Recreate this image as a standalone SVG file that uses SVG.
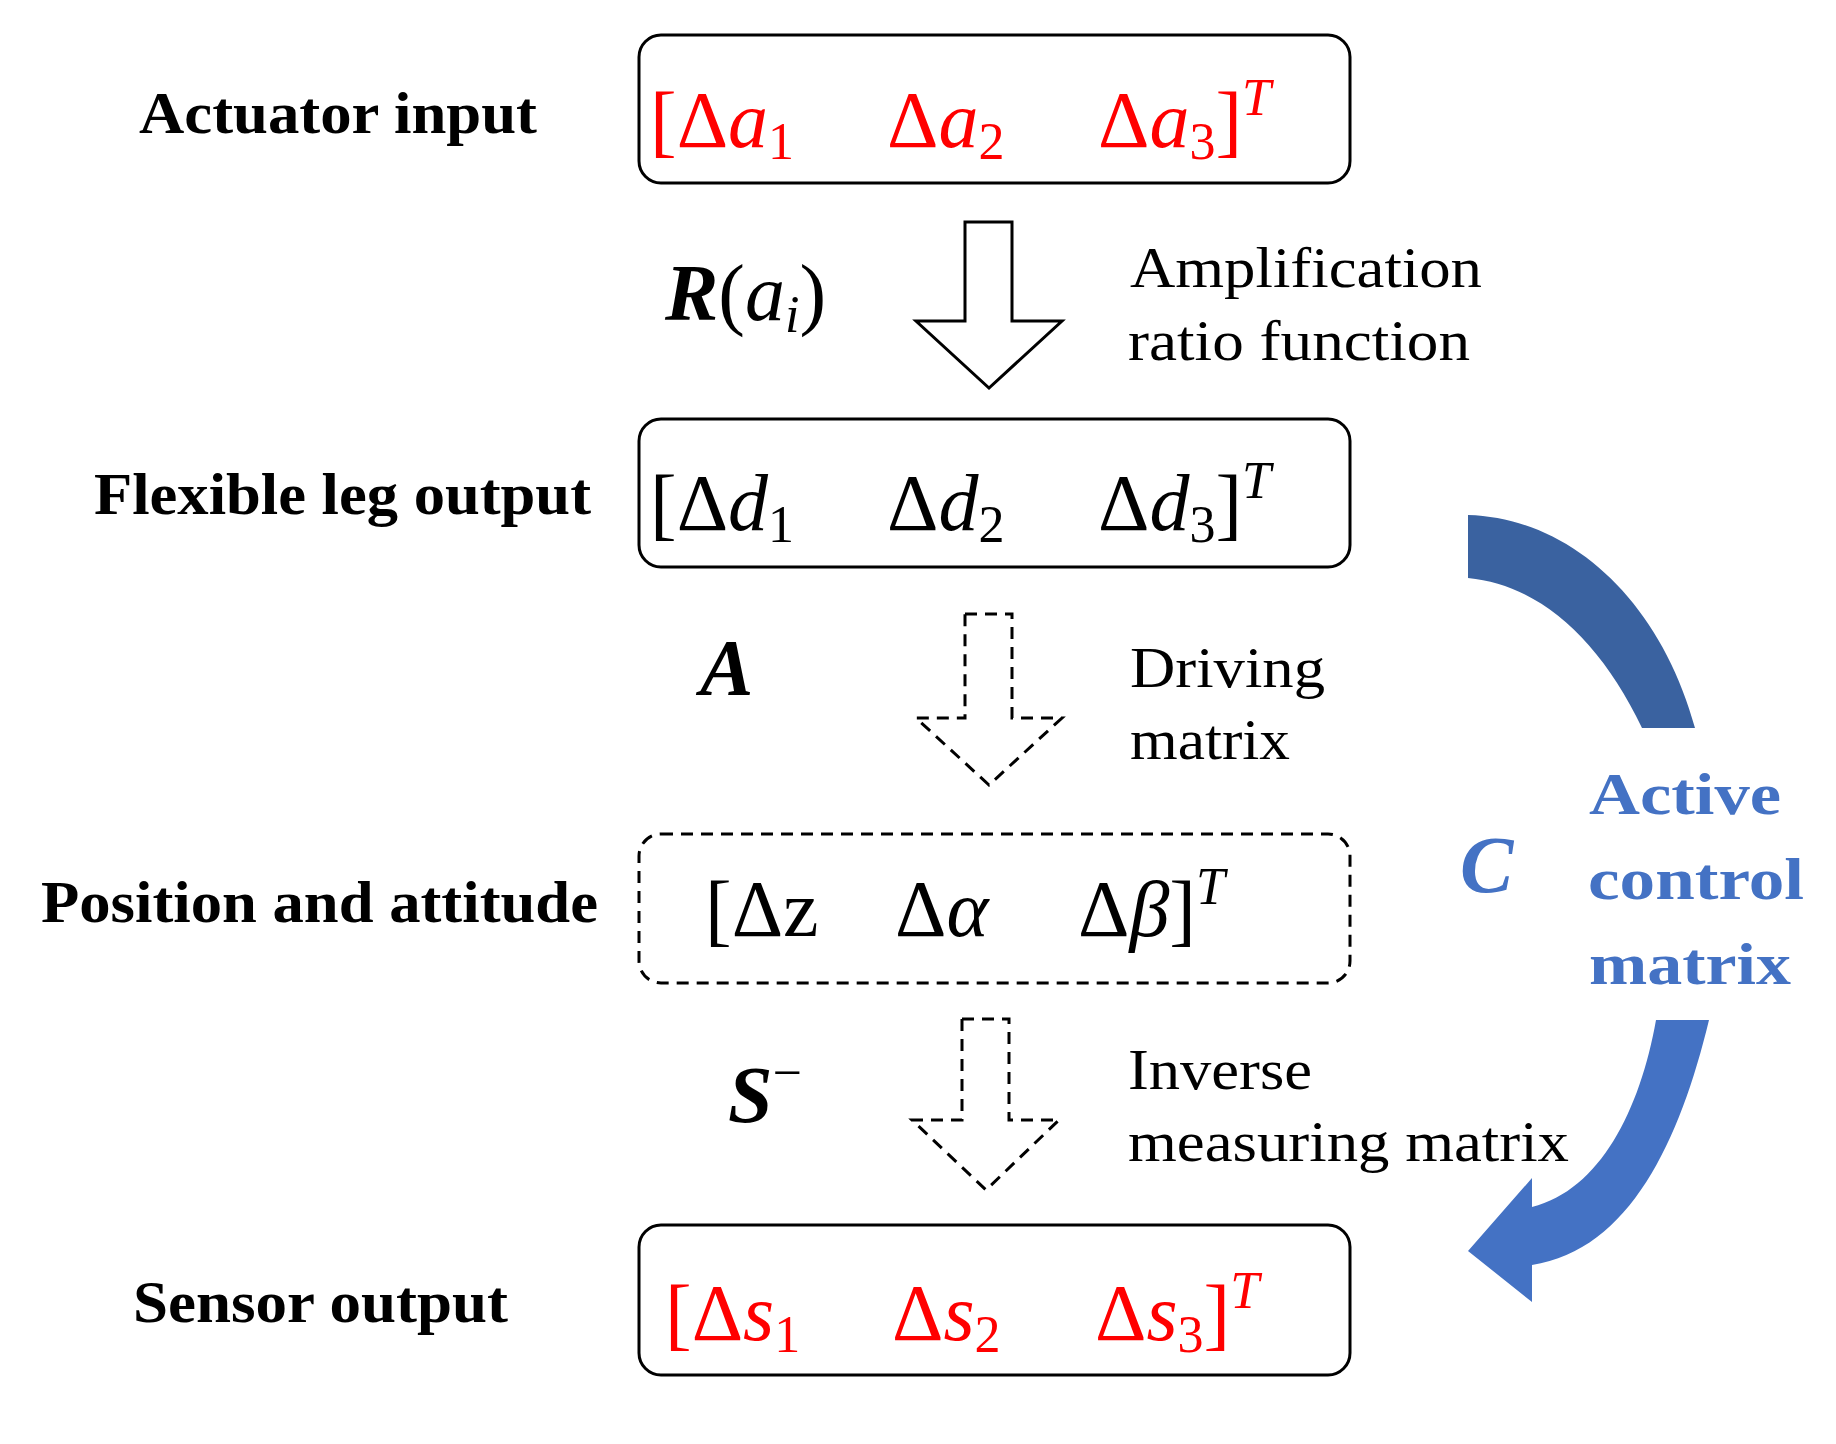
<svg xmlns="http://www.w3.org/2000/svg" width="1836" height="1444" viewBox="0 0 1836 1444">
<style>
.box{fill:none;stroke:#000;stroke-width:3}
.dash{stroke-dasharray:12 8}
.lab{font-family:"Liberation Serif",serif;font-weight:bold;font-size:60px}
.desc{font-family:"Liberation Serif",serif;font-size:58px}
.m{font-family:"Liberation Serif",serif;font-style:italic;font-size:80px}
.red{fill:#f00}
.blue{fill:#4472C4}
</style>
<rect width="1836" height="1444" fill="#fff"/>
<g id="n1"><rect class="box" x="639" y="35" width="711" height="148" rx="22"/>
<text class="m red" y="147"><tspan x="650" font-style="normal">[Δ</tspan><tspan>a</tspan><tspan font-size="52" dy="12" font-style="normal">1</tspan><tspan x="887" dy="-12" font-style="normal">Δ</tspan><tspan>a</tspan><tspan font-size="52" dy="12" font-style="normal">2</tspan><tspan x="1098" dy="-12" font-style="normal">Δ</tspan><tspan>a</tspan><tspan font-size="52" dy="12" font-style="normal">3</tspan><tspan dy="-12" font-style="normal">]</tspan><tspan font-size="52" dy="-32">T</tspan></text>
<text class="lab" x="139" y="133" textLength="398" lengthAdjust="spacingAndGlyphs">Actuator input</text></g>
<g id="n2"><rect class="box" x="639" y="419" width="711" height="148" rx="22"/>
<text class="m" y="530"><tspan x="650" font-style="normal">[Δ</tspan><tspan>d</tspan><tspan font-size="52" dy="12" font-style="normal">1</tspan><tspan x="887" dy="-12" font-style="normal">Δ</tspan><tspan>d</tspan><tspan font-size="52" dy="12" font-style="normal">2</tspan><tspan x="1098" dy="-12" font-style="normal">Δ</tspan><tspan>d</tspan><tspan font-size="52" dy="12" font-style="normal">3</tspan><tspan dy="-12" font-style="normal">]</tspan><tspan font-size="52" dy="-32">T</tspan></text>
<text class="lab" x="94" y="514" textLength="497" lengthAdjust="spacingAndGlyphs">Flexible leg output</text></g>
<g id="n3"><rect class="box dash" x="639" y="834" width="711" height="149" rx="22"/>
<text class="m" y="936"><tspan x="705" font-style="normal">[Δz</tspan><tspan x="895" font-style="normal">Δ</tspan><tspan>α</tspan><tspan x="1078" font-style="normal">Δ</tspan><tspan>β</tspan><tspan font-style="normal">]</tspan><tspan font-size="52" dy="-32">T</tspan></text>
<text class="lab" x="41" y="922" textLength="557" lengthAdjust="spacingAndGlyphs">Position and attitude</text></g>
<g id="n4"><rect class="box" x="639" y="1225" width="711" height="150" rx="22"/>
<text class="m red" y="1340"><tspan x="665" font-style="normal">[Δ</tspan><tspan>s</tspan><tspan font-size="52" dy="12" font-style="normal">1</tspan><tspan x="892" dy="-12" font-style="normal">Δ</tspan><tspan>s</tspan><tspan font-size="52" dy="12" font-style="normal">2</tspan><tspan x="1095" dy="-12" font-style="normal">Δ</tspan><tspan>s</tspan><tspan font-size="52" dy="12" font-style="normal">3</tspan><tspan dy="-12" font-style="normal">]</tspan><tspan font-size="52" dy="-32">T</tspan></text>
<text class="lab" x="133" y="1322" textLength="375" lengthAdjust="spacingAndGlyphs">Sensor output</text></g>
<g id="connectors">
<path class="box" d="M965 222H1012V321H1062L989 388L916 321H965Z"/>
<path class="box dash" d="M965 614H1012V718H1062L989 785L916 718H965Z"/>
<path class="box dash" d="M962 1019H1009V1120H1059L986 1190L912 1120H962Z"/>
<path fill="#3A62A0" d="M1468 515C1570 518 1660 600 1695 728H1642C1600 640 1540 585 1468 578Z"/>
<path fill="#4472C4" d="M1656 1020H1709C1680 1140 1630 1250 1532 1265V1302L1468 1251L1532 1178V1207C1600 1190 1640 1110 1656 1020Z"/>
</g>
<g id="labels">
<text class="m" x="665" y="320"><tspan font-weight="bold">R</tspan><tspan font-style="normal">(</tspan>a<tspan font-size="52" dy="12">i</tspan><tspan font-style="normal" dy="-12">)</tspan></text>
<text class="m" x="700" y="695" font-weight="bold">A</text>
<text class="m" x="728" y="1122" font-weight="bold">S<tspan font-size="52" dy="-32" font-weight="normal" font-style="normal">−</tspan></text>
<text class="m blue" x="1460" y="892" font-weight="bold">C</text>
<text class="desc" x="1130" y="287" textLength="352" lengthAdjust="spacingAndGlyphs">Amplification</text>
<text class="desc" x="1128" y="360" textLength="342" lengthAdjust="spacingAndGlyphs">ratio function</text>
<text class="desc" x="1130" y="687" textLength="195" lengthAdjust="spacingAndGlyphs">Driving</text>
<text class="desc" x="1130" y="759" textLength="160" lengthAdjust="spacingAndGlyphs">matrix</text>
<text class="desc" x="1128" y="1089" textLength="184" lengthAdjust="spacingAndGlyphs">Inverse</text>
<text class="desc" x="1128" y="1161" textLength="441" lengthAdjust="spacingAndGlyphs">measuring matrix</text>
<text class="lab blue" x="1589" y="814" textLength="192" lengthAdjust="spacingAndGlyphs">Active</text>
<text class="lab blue" x="1588" y="899" textLength="216" lengthAdjust="spacingAndGlyphs">control</text>
<text class="lab blue" x="1589" y="984" textLength="202" lengthAdjust="spacingAndGlyphs">matrix</text>
</g>
</svg>
